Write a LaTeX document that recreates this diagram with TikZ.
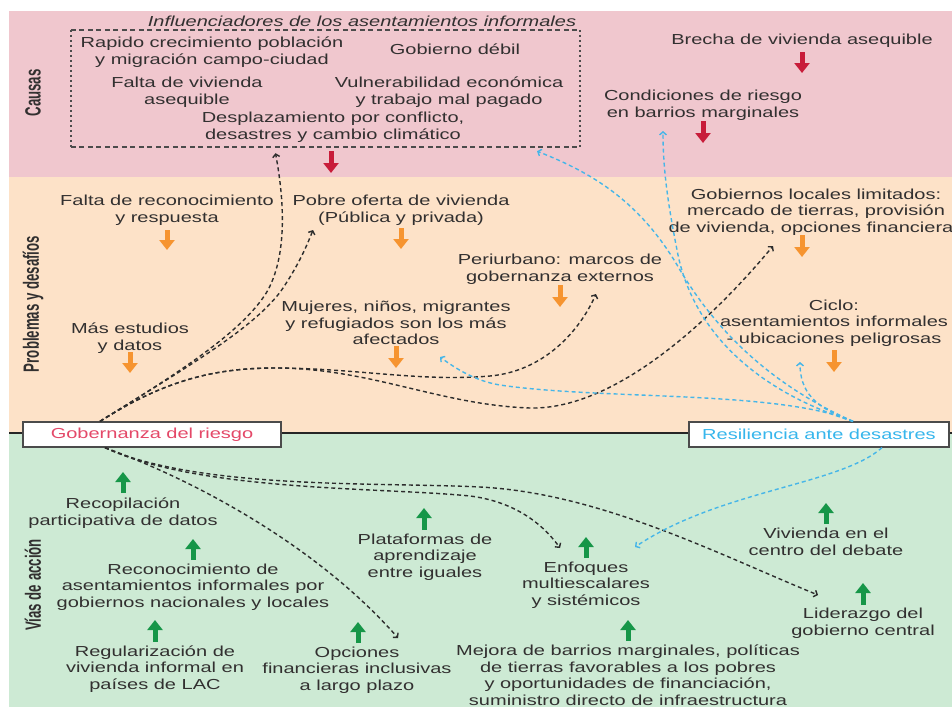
\documentclass[tikz,border=0pt]{standalone}
\usepackage{fontspec}
\setmainfont{Liberation Sans}[FakeStretch=1.38]
\newfontfamily\sidefont{Liberation Sans}[FakeStretch=0.9]
\usetikzlibrary{arrows.meta,calc}

\definecolor{bandred}{RGB}{240,199,206}
\definecolor{bandpeach}{RGB}{253,226,200}
\definecolor{bandgreen}{RGB}{205,234,212}
\definecolor{txt}{RGB}{50,48,48}
\definecolor{arrred}{RGB}{200,28,58}
\definecolor{arrorange}{RGB}{246,148,48}
\definecolor{arrgreen}{RGB}{22,150,72}
\definecolor{conblack}{RGB}{45,45,45}
\definecolor{concyan}{RGB}{70,182,232}
\definecolor{govred}{RGB}{228,72,104}
\definecolor{rescyan}{RGB}{55,182,236}
\definecolor{boxline}{RGB}{75,75,75}

\begin{document}
\begin{tikzpicture}[x=1pt,y=-1pt,
  lbl/.style={align=center, inner sep=0pt, text=txt, font=\fontsize{14.5}{16.5}\selectfont},
  sidelbl/.style={rotate=90, inner sep=0pt, text=txt},
  keybox/.style={draw=boxline, line width=1.3pt, fill=white, inner sep=0pt,
    minimum width=258pt, minimum height=25pt, font=\fontsize{14.5}{16.5}\selectfont},
  blockarrow/.style={line width=5pt, -{Triangle[width=15pt,length=10pt]}},
  redarr/.style={blockarrow, draw=arrred},
  orgarr/.style={blockarrow, draw=arrorange},
  grnarr/.style={blockarrow, draw=arrgreen},
  conn/.style={draw=conblack, line width=1.4pt, dash pattern=on 4pt off 3pt,
    -{Straight Barb[length=3pt,width=7pt]}},
  cconn/.style={draw=concyan, line width=1.4pt, dash pattern=on 4pt off 3pt,
    -{Straight Barb[length=3pt,width=7pt]}},
  boxdash/.style={draw=boxline, line width=1.5pt, dash pattern=on 5pt off 3.5pt},
  boxdot/.style={draw=boxline, line width=1.8pt, dash pattern=on 2pt off 3pt}
]
\useasboundingbox (0,0) rectangle (952,707);
\clip (0,0) rectangle (952,707);

% background bands
\fill[white] (0,0) rectangle (952,707);
\fill[bandred] (9,11) rectangle (952,177);
\fill[bandpeach] (9,177) rectangle (952,433);
\fill[bandgreen] (9,433) rectangle (952,707);
\draw[line width=2.2pt, black!85] (9,433) -- (952,433);

% side labels
\node[sidelbl] (causas) at (33,93) {\scalebox{1}[1.5]{\sidefont\bfseries\fontsize{14.7}{16}\selectfont Causas}};
\node[sidelbl] (problemas) at (33,304) {\scalebox{1}[1.5]{\sidefont\bfseries\fontsize{14.7}{16}\selectfont Problemas y desafíos}};
\node[sidelbl] (vias) at (33,585) {\scalebox{1}[1.5]{\sidefont\bfseries\fontsize{14.7}{16}\selectfont Vías de acción}};

% key boxes on the dividing line
\node[keybox, text=govred] (gob) at (152,434.5) {Gobernanza del riesgo};
\node[keybox, text=rescyan, minimum width=260pt] (res) at (819,434.5) {Resiliencia ante desastres};

% causes
\node[inner sep=0pt, minimum width=509pt, minimum height=117pt] (infbox) at (325.5,88.5) {};
\draw[boxdash] (infbox.north west) -- (infbox.north east);
\draw[boxdash] (infbox.south west) -- (infbox.south east);
\draw[boxdot] (infbox.north west) -- (infbox.south west);
\draw[boxdot] (infbox.north east) -- (infbox.south east);
\node[lbl, font=\fontsize{14.5}{16.5}\selectfont\itshape] (titleinf) at (362,21) {Influenciadores de los asentamientos informales};
\node[lbl] (rapido) at (212,52) {Rapido crecimiento población\\y migración campo-ciudad};
\node[lbl] (gobdebil) at (455,49) {Gobierno débil};
\node[lbl] (faltaviv) at (187,92) {Falta de vivienda\\asequible};
\node[lbl] (vulner) at (449,92) {Vulnerabilidad económica\\y trabajo mal pagado};
\node[lbl] (desplaz) at (333,127) {Desplazamiento por conflicto,\\desastres y cambio climático};
\node[lbl] (brecha) at (802,41) {Brecha de vivienda asequible};
\node[lbl] (condic) at (703,105) {Condiciones de riesgo\\en barrios marginales};

\draw[redarr] ($(brecha)+(0,11)$) -- +(0,21);
\draw[redarr] ($(condic)+(0,16)$) -- +(0,22);
\draw[redarr] ($(desplaz)+(-2,24)$) -- +(0,22);

% problems and challenges
\node[lbl] (reconoc) at (167,210) {Falta de reconocimiento\\y respuesta};
\node[lbl] (pobre) at (401,210) {Pobre oferta de vivienda\\(Pública y privada)};
\node[lbl] (periurb) at (560,269) {Periurbano: marcos de\\gobernanza externos};
\node[lbl] (mujeres) at (396,323) {Mujeres, niños, migrantes\\y refugiados son los más\\afectados};
\node[lbl] (masest) at (130,338) {Más estudios\\y datos};
\node[lbl] (goblocal) at (816,212) {Gobiernos locales limitados:\\mercado de tierras, provisión\\de vivienda, opciones financieras};
\node[lbl] (ciclo) at (834,323) {Ciclo:\\asentamientos informales\\\relax{}- ubicaciones peligrosas};

\draw[orgarr] ($(reconoc)+(0,20)$) -- +(0,20);
\draw[orgarr] ($(pobre)+(0,18)$) -- +(0,21);
\draw[orgarr] ($(periurb)+(0,16)$) -- +(0,22);
\draw[orgarr] ($(mujeres)+(0,23)$) -- +(0,22);
\draw[orgarr] ($(masest)+(0,14)$) -- +(0,21);
\draw[orgarr] ($(goblocal)+(-14,23)$) -- +(0,22);
\draw[orgarr] ($(ciclo)+(0,27)$) -- +(0,22);

% pathways for action
\node[lbl] (recop) at (123,513) {Recopilación\\participativa de datos};
\node[lbl] (recon) at (193,587) {Reconocimiento de\\asentamientos informales por\\gobiernos nacionales y locales};
\node[lbl] (regul) at (155,669) {Regularización de\\vivienda informal en\\países de LAC};
\node[lbl] (opcion) at (357,670) {Opciones\\financieras inclusivas\\a largo plazo};
\node[lbl] (plataf) at (425,557) {Plataformas de\\aprendizaje\\entre iguales};
\node[lbl] (enfoq) at (586,585) {Enfoques\\multiescalares\\y sistémicos};
\node[lbl] (mejora) at (628,675) {Mejora de barrios marginales, políticas\\de tierras favorables a los pobres\\y oportunidades de financiación,\\suministro directo de infraestructura};
\node[lbl] (vivcentro) at (826,542) {Vivienda en el\\centro del debate};
\node[lbl] (lider) at (863,623) {Liderazgo del\\gobierno central};

\draw[grnarr] ($(recop)+(0,-20)$) -- +(0,-21);
\draw[grnarr] ($(recon)+(0,-27)$) -- +(0,-21);
\draw[grnarr] ($(regul)+(0,-27)$) -- +(0,-22);
\draw[grnarr] ($(opcion)+(1,-27)$) -- +(0,-21);
\draw[grnarr] ($(plataf)+(-1,-27)$) -- +(0,-22);
\draw[grnarr] ($(enfoq)+(0,-27)$) -- +(0,-21);
\draw[grnarr] ($(mejora)+(0,-34)$) -- +(0,-21);
\draw[grnarr] ($(vivcentro)+(0,-18)$) -- +(0,-21);
\draw[grnarr] ($(lider)+(0,-18)$) -- +(0,-22);

% connector end points
\coordinate (gobtop) at ($(gob.north)+(-52,0)$);
\coordinate (gobbot) at ($(gob.south)+(-47,0)$);
\coordinate (restop) at ($(res.north)+(34,0)$);
\coordinate (resbot) at ($(res.south)+(63,0)$);
\coordinate (tbox) at ($(infbox.south)+(-50,6)$);
\coordinate (tboxr) at ($(infbox.south)+(211.5,4)$);
\coordinate (tpobre) at ($(pobre)+(-88,20)$);
\coordinate (tperi) at ($(periurb)+(36,25)$);
\coordinate (tgobloc) at ($(goblocal)+(-43,34)$);
\coordinate (topcion) at ($(opcion)+(41,-32)$);
\coordinate (tenfl) at ($(enfoq)+(-26,-37)$);
\coordinate (tlider) at ($(lider)+(-45,-28)$);
\coordinate (tcondic) at ($(condic)+(-40,26)$);
\coordinate (tmuj) at ($(mujeres)+(44,34)$);
\coordinate (tciclo) at ($(ciclo)+(-34,39)$);
\coordinate (tenfr) at ($(enfoq)+(49,-38)$);

% risk governance links
\draw[conn] (gobtop) .. controls (180,372) and (245,330) .. (268,290)
  .. controls (285,258) and (286,210) .. (tbox);
\draw[conn] (gobtop) .. controls (190,365) and (260,325) .. (285,285)
  .. controls (298,265) and (306,248) .. (tpobre);
\draw[conn] (gobtop) .. controls (165,380) and (215,368) .. (275,368)
  .. controls (355,368) and (420,382) .. (490,376)
  .. controls (545,371) and (580,330) .. (tperi);
\draw[conn] (gobtop) .. controls (165,380) and (215,368) .. (275,368)
  .. controls (370,368) and (440,405) .. (530,408)
  .. controls (620,410) and (720,310) .. (tgobloc);
\draw[conn] (gobbot) .. controls (220,490) and (330,560) .. (topcion);
\draw[conn] (gobbot) .. controls (200,492) and (380,487) .. (470,496)
  .. controls (510,501) and (540,520) .. (tenfl);
\draw[conn] (gobbot) .. controls (200,490) and (380,482) .. (480,487)
  .. controls (600,493) and (720,555) .. (tlider);

% disaster resilience links
\draw[cconn] (restop) .. controls (760,380) and (710,320) .. (680,270)
  .. controls (640,200) and (590,172) .. (tboxr);
\draw[cconn] (restop) .. controls (760,392) and (695,335) .. (678,255)
  .. controls (668,205) and (663,170) .. (tcondic);
\draw[cconn] (restop) .. controls (780,390) and (600,400) .. (500,385)
  .. controls (475,381) and (455,368) .. (tmuj);
\draw[cconn] (restop) .. controls (815,408) and (800,392) .. (tciclo);
\draw[cconn] (resbot) .. controls (840,485) and (720,490) .. (tenfr);
\end{tikzpicture}
\end{document}
